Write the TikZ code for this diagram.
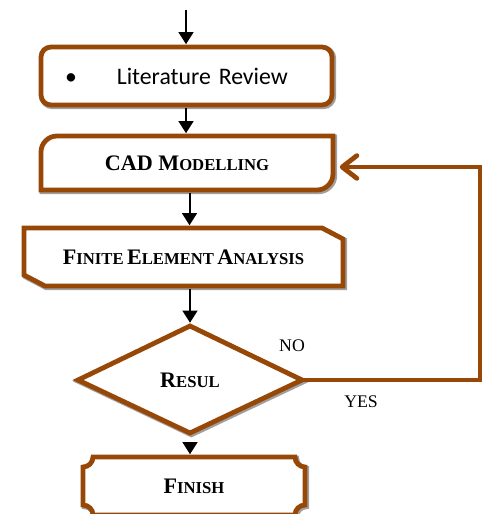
\documentclass[tikz,border=0pt]{standalone}
\usepackage{fontspec}
\setmainfont{Liberation Serif}
\newfontfamily\calibri{Carlito}
\usetikzlibrary{arrows.meta,calc}
\definecolor{brn}{RGB}{152,72,6}
\definecolor{shd}{RGB}{160,160,160}
\newcommand{\capBig}[1]{{\fontsize{16.6}{18}\selectfont #1}}
\newcommand{\capSm}[1]{{\fontsize{12.5}{14}\selectfont #1}}
\tikzset{
  boxline/.style={draw=brn, line width=3.6pt, fill=white, line join=miter},
  shadowline/.style={draw=shd, line width=4.2pt, shift={(1.4,1.4)}},
  holder/.style={draw=none, inner sep=0pt, font=\bfseries},
  arr/.style={-{Triangle[length=9pt,width=11pt]}, line width=1.5pt, black},
  loopline/.style={draw=brn, line width=3.6pt, -{Straight Barb[length=11pt,width=17pt,round]}},
  lbl/.style={inner sep=0pt, font=\fontsize{13.3}{15}\selectfont}
}
\begin{document}
\begin{tikzpicture}[x=0.75pt,y=-0.75pt]
\useasboundingbox (0,0) rectangle (483,514);
% outlines
\draw[shadowline, rounded corners=7.5pt] (41,47) rectangle (332,105);
\draw[boxline, rounded corners=7.5pt] (41,47) rectangle (332,105);
\draw[shadowline] (41,190) -- (41,152) .. controls (41,143.2) and (48.2,136) .. (57,136) -- (333,136) -- (333,174) .. controls (333,182.8) and (325.8,190) .. (317,190) -- cycle;
\draw[boxline] (41,190) -- (41,152) .. controls (41,143.2) and (48.2,136) .. (57,136) -- (333,136) -- (333,174) .. controls (333,182.8) and (325.8,190) .. (317,190) -- cycle;
\draw[shadowline] (24,228) -- (322,228) -- (343,239) -- (343,286) -- (45,286) -- (24,275) -- cycle;
\draw[boxline] (24,228) -- (322,228) -- (343,239) -- (343,286) -- (45,286) -- (24,275) -- cycle;
\draw[shadowline] (190,326) -- (302,380) -- (190,433) -- (78,380) -- cycle;
\draw[boxline] (190,326) -- (302,380) -- (190,433) -- (78,380) -- cycle;
\draw[shadowline] (83,467) .. controls (88.5,467) and (93,462.5) .. (93,457) -- (295,457) .. controls (295,462.5) and (299.5,467) .. (305,467) -- (305,505) .. controls (299.5,505) and (295,509.5) .. (295,515) -- (93,515) .. controls (93,509.5) and (88.5,505) .. (83,505) -- cycle;
\draw[boxline] (83,467) .. controls (88.5,467) and (93,462.5) .. (93,457) -- (295,457) .. controls (295,462.5) and (299.5,467) .. (305,467) -- (305,505) .. controls (299.5,505) and (295,509.5) .. (295,515) -- (93,515) .. controls (93,509.5) and (88.5,505) .. (83,505) -- cycle;
% nodes
\node[holder, minimum width={296*0.75pt}, minimum height={63*0.75pt}, text width={291*0.75pt}, align=left, font=\calibri\fontsize{17.8}{20}\selectfont] (lit) at (186.5,76) {\hspace*{18pt}\textbullet\hspace*{30pt}Literature Review};
\node[holder, minimum width={297*0.75pt}, minimum height={59*0.75pt}] (cad) at (187,163) {\capBig{CAD M}\capSm{ODELLING}};
\node[holder, minimum width={324*0.75pt}, minimum height={63*0.75pt}] (fea) at (183.5,257) {\capBig{F}\capSm{INITE} \capBig{E}\capSm{LEMENT} \capBig{A}\capSm{NALYSIS}};
\node[holder, minimum width={232*0.75pt}, minimum height={114*0.75pt}] (dia) at (190,380) {\capBig{R}\capSm{ESUL}};
\node[holder, minimum width={227*0.75pt}, minimum height={63*0.75pt}] (fin) at (194,486) {\capBig{F}\capSm{INISH}};
\node[lbl] (no) at (292,346) {NO};
\node[lbl] (yes) at (361,402) {YES};
% connectors
\coordinate (start) at (186,10);
\coordinate (axis2) at (189.5,0);
\draw[arr] (start) -- (start |- lit.north);
\draw[arr] (lit.south -| start) -- (cad.north -| start);
\draw[arr] (cad.south -| axis2) -- (fea.north -| axis2);
\draw[arr] (fea.south -| dia.north) -- (dia.north);
\draw[arr] ([yshift=-6pt]dia.south) -- (fin.north -| dia.south);
\coordinate (lp1) at (480,380);
\coordinate (lp2) at (480,167);
\draw[loopline] (dia.east) ++(-4,0) -- (lp1) -- (lp2) -- ([xshift=3pt]cad.east |- lp2);
\end{tikzpicture}
\end{document}
